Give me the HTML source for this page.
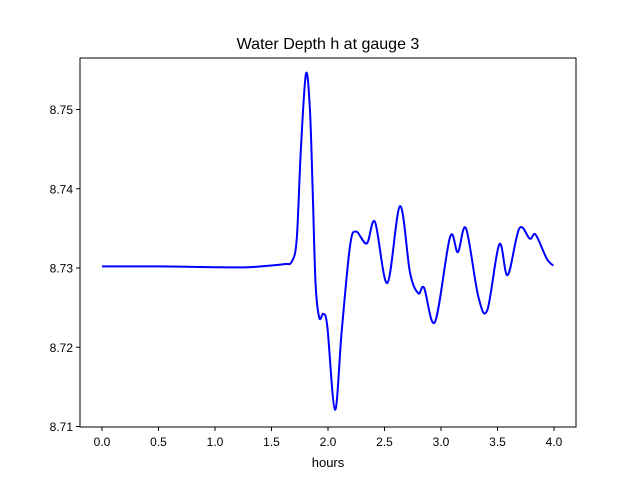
<!DOCTYPE html>
<html><head><meta charset="utf-8"><style>
body{margin:0;background:#fff;}
svg{display:block;font-family:"Liberation Sans","DejaVu Sans",sans-serif;}
</style></head><body>
<svg id="chart" width="640" height="480">
<rect x="0" y="0" width="640" height="480" fill="#fff"/>
<text x="328" y="49" font-size="16" text-anchor="middle">Water Depth h at gauge 3</text>
<g id="plot"></g>
<rect x="80" y="58" width="496" height="369" fill="none" stroke="#000" stroke-width="1"/>
<text x="328" y="467" font-size="13" text-anchor="middle">hours</text>
</svg>
<script>
const times=[0,0.5,1.0,1.3,1.487,1.62,1.679,1.723,1.76,1.805,1.84,1.865,1.89,1.923,1.958,1.994,2.062,2.121,2.195,2.248,2.343,2.416,2.525,2.637,2.726,2.799,2.850,2.947,3.080,3.149,3.221,3.330,3.410,3.516,3.590,3.693,3.786,3.838,3.935,3.994];
const depth=[8.7302,8.7302,8.7301,8.7301,8.7303,8.7305,8.7308,8.7336,8.7450,8.7545,8.7500,8.7395,8.7280,8.7237,8.7242,8.7226,8.7121,8.7220,8.7328,8.7346,8.7331,8.7358,8.7281,8.7378,8.7294,8.7268,8.7275,8.7232,8.7339,8.7320,8.7350,8.7264,8.7247,8.7330,8.7291,8.7350,8.7337,8.7342,8.7312,8.7303];
const xTicks=[0,0.5,1.0,1.5,2.0,2.5,3.0,3.5,4.0];
const xTickLabels=["0.0","0.5","1.0","1.5","2.0","2.5","3.0","3.5","4.0"];
const yTicks=[8.71,8.72,8.73,8.74,8.75];
const yTickLabels=["8.71","8.72","8.73","8.74","8.75"];
const X=t=>102+t*113;
const Y=h=>268-(h-8.73)*7925;
const NS='http://www.w3.org/2000/svg';
const g=document.getElementById('plot');
function mk(tag,attrs){const e=document.createElementNS(NS,tag);for(const k in attrs)e.setAttribute(k,attrs[k]);return e;}
xTicks.forEach((t,i)=>{
  const l=mk('line',{x1:X(t),x2:X(t),y1:427,y2:431,stroke:'#000'});
  
  
  g.appendChild(l);
  const tx=mk('text',{x:X(t),y:446,'font-size':12,'text-anchor':'middle'});
  tx.textContent=xTickLabels[i];
  
  
  g.appendChild(tx);
});
yTicks.forEach((v,i)=>{
  const l=mk('line',{x1:76,x2:80,y1:Y(v),y2:Y(v),stroke:'#000'});
  
  
  g.appendChild(l);
  const tx=mk('text',{x:73,y:Y(v)+4.5,'font-size':12,'text-anchor':'end'});
  tx.textContent=yTickLabels[i];
  
  
  g.appendChild(tx);
});
const pts=times.map((t,i)=>[X(t),Y(depth[i])]);
let d='M'+pts[0][0]+','+pts[0][1];
for(let i=0;i<pts.length-1;i++){
  const p0=pts[Math.max(0,i-1)],p1=pts[i],p2=pts[i+1],p3=pts[Math.min(pts.length-1,i+2)];
  const c1=[p1[0]+(p2[0]-p0[0])/6,p1[1]+(p2[1]-p0[1])/6];
  const c2=[p2[0]-(p3[0]-p1[0])/6,p2[1]-(p3[1]-p1[1])/6];
  d+=' C'+c1[0]+','+c1[1]+' '+c2[0]+','+c2[1]+' '+p2[0]+','+p2[1];
}
const path=mk('path',{d:d,fill:'none',stroke:'#0000ff','stroke-width':2});


g.appendChild(path);
</script>
</body></html>
